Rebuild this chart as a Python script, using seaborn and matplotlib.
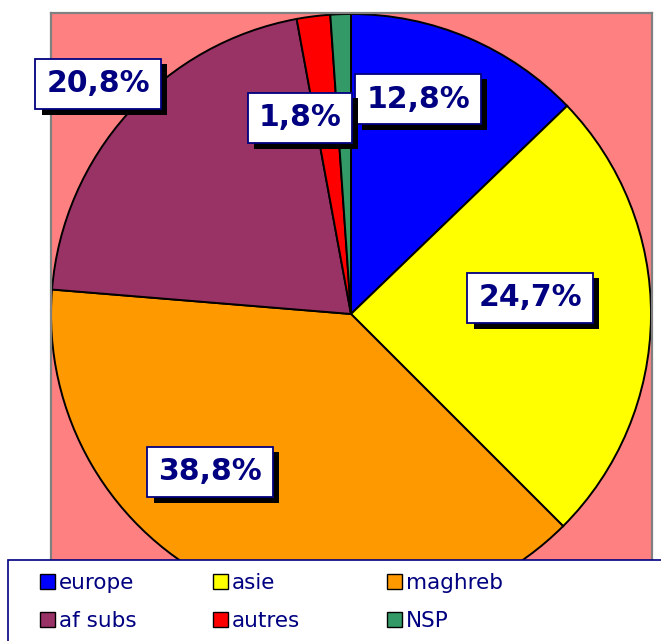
import matplotlib
matplotlib.use("Agg")
from matplotlib import pyplot as plt
from matplotlib.patches import Rectangle
import matplotlib.patheffects as pe
import seaborn as sns

sns.set_theme(style="white")
plt.rcParams['font.family'] = ['DejaVu Sans']

# data
labels = ["europe", "asie", "maghreb", "af subs", "autres", "NSP"]
shares = [12.8, 24.7, 38.8, 20.8, 1.8, 1.1]
show_label = [True, True, True, True, True, False]
colors = ["#0000FF", "#FFFF00", "#FF9900", "#993366", "#FF0000", "#339966"]

NAVY = "#000080"
W, H = 661, 641

# label box centres in pixels (x, y from top)
label_pos = [(418, 99), (530, 298), (210, 472), (98, 84), (300, 118), None]

fig = plt.figure(figsize=(W / 100, H / 100), dpi=100)
fig.patch.set_facecolor("white")

# plot area in pixel units, y measured from the bottom
x0, x1, ytop, ybot = 51, 652, 13, 630
ax = fig.add_axes([x0 / W, (H - ybot) / H, (x1 - x0) / W, (ybot - ytop) / H])
ax.set_facecolor("#FF8080")

wedges, _ = ax.pie(
    shares,
    colors=colors,
    startangle=90,
    counterclock=False,
    center=(351, H - 314),
    radius=300,
    frame=True,
    wedgeprops=dict(edgecolor="black", linewidth=1.4),
)
ax.set_aspect("auto")
ax.set_xlim(x0, x1)
ax.set_ylim(H - ybot, H - ytop)
ax.set_xticks([])
ax.set_yticks([])
for s in ax.spines.values():
    s.set_color("#808080")
    s.set_linewidth(1.6)

for share, show, pos in zip(shares, show_label, label_pos):
    if not show or pos is None:
        continue
    txt = f"{share:.1f}".replace(".", ",") + "%"
    t = ax.text(pos[0], H - pos[1], txt, ha="center", va="center",
                fontsize=21.5, fontweight="bold", color=NAVY, zorder=5,
                bbox=dict(boxstyle="square,pad=0.36", facecolor="white",
                          edgecolor=NAVY, linewidth=1.3))
    t.get_bbox_patch().set_path_effects([
        pe.SimplePatchShadow(offset=(4.5, -3.8), shadow_rgbFace="black", alpha=1.0),
        pe.Normal(),
    ])

# legend box at bottom, drawn over the plot area
fig.add_artist(Rectangle((8 / W, -0.01), 1.0, (H - 560) / H + 0.01,
                         transform=fig.transFigure, facecolor="white",
                         edgecolor=NAVY, linewidth=1.2, zorder=2))
col_x = [40, 213, 387]
row_y = [581, 619]
sq = 15
for i, (lab, col) in enumerate(zip(labels, colors)):
    cx = col_x[i % 3]
    cy = row_y[i // 3]
    fig.add_artist(Rectangle((cx / W, (H - cy - sq / 2) / H), sq / W, sq / H,
                             transform=fig.transFigure, facecolor=col,
                             edgecolor="black", linewidth=1.0, zorder=3))
    fig.text((cx + sq + 4) / W, (H - cy) / H, lab, ha="left", va="center_baseline",
             fontsize=15.5, color=NAVY, zorder=4)

fig.savefig("out.png", dpi=100)
